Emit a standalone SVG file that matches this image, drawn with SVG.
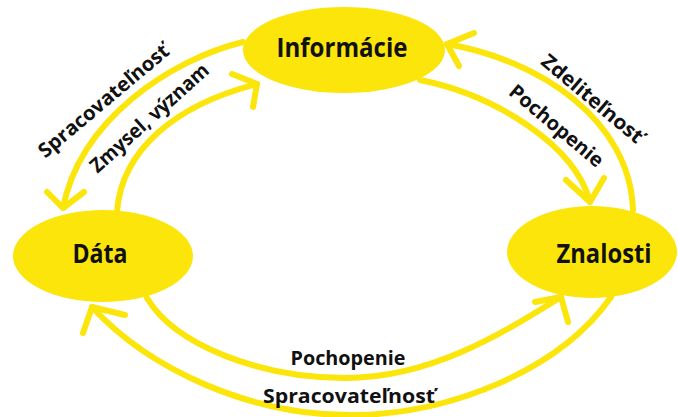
<svg xmlns="http://www.w3.org/2000/svg" width="678" height="417" viewBox="0 0 678 417">
  <style>
    .node ellipse { fill: #FBE50B; }
    .node text { font-family: "Open Sans", "Noto Sans", "DejaVu Sans", sans-serif; font-weight: 700; font-size: 27px; fill: #111; text-anchor: middle; }
    .edge { fill: none; stroke: #FBE50B; stroke-width: 6; stroke-linecap: round; stroke-linejoin: round; }
    .label { font-family: "Open Sans", "Noto Sans", "DejaVu Sans", sans-serif; font-weight: 700; font-size: 20px; fill: #111; text-anchor: middle; }
  </style>
  <rect width="678" height="417" fill="#ffffff"/>

  <!-- connectors: curved arrows with open V heads -->
  <g id="connectors">
    <g id="informacie-data">
      <path class="edge" d="M243,42 C170,60 80,120 63,208"/>
      <polyline class="edge" points="47,192 63,208 84,192"/>
      <text class="label" transform="translate(108,106) rotate(-40)" textLength="164" lengthAdjust="spacingAndGlyphs">Spracovateľnosť</text>
    </g>
    <g id="data-informacie">
      <path class="edge" d="M117,211 C122,150 175,105 257,84"/>
      <polyline class="edge" points="232,74 257,84 253,107"/>
      <text class="label" transform="translate(154,123) rotate(-42)" textLength="152" lengthAdjust="spacingAndGlyphs">Zmysel, význam</text>
    </g>
    <g id="znalosti-informacie">
      <path class="edge" d="M633,210 C630,120 540,60 447,44"/>
      <polyline class="edge" points="474,33 447,44 459,66"/>
      <text class="label" transform="translate(588,104) rotate(40)" textLength="126" lengthAdjust="spacingAndGlyphs">Zdeliteľnosť</text>
    </g>
    <g id="informacie-znalosti">
      <path class="edge" d="M420,80 C495,95 575,145 590,202"/>
      <polyline class="edge" points="566,180 590,202 604,178"/>
      <text class="label" transform="translate(552,131) rotate(40)" textLength="116" lengthAdjust="spacingAndGlyphs">Pochopenie</text>
    </g>
    <g id="data-znalosti">
      <path class="edge" d="M147,298 C175,345 260,378 345,378 S500,335 561,297"/>
      <polyline class="edge" points="535,302 561,297 568,322"/>
      <text class="label" x="348" y="365" textLength="115" lengthAdjust="spacingAndGlyphs">Pochopenie</text>
    </g>
    <g id="znalosti-data">
      <path class="edge" d="M611,297 C560,370 450,415 350,415 S150,370 92,307"/>
      <polyline class="edge" points="83,333 92,307 125,315"/>
      <text class="label" x="349" y="403" textLength="172" lengthAdjust="spacingAndGlyphs">Spracovateľnosť</text>
    </g>
  </g>

  <!-- nodes -->
  <g id="informacie" class="node">
    <ellipse cx="344" cy="50" rx="101" ry="43"/>
    <text x="342" y="57" textLength="131" lengthAdjust="spacingAndGlyphs">Informácie</text>
  </g>
  <g id="data" class="node">
    <ellipse cx="103" cy="256" rx="90" ry="46"/>
    <text x="100" y="263" textLength="55" lengthAdjust="spacingAndGlyphs">Dáta</text>
  </g>
  <g id="znalosti" class="node">
    <ellipse cx="592" cy="252" rx="85" ry="46"/>
    <text x="604" y="263" textLength="95" lengthAdjust="spacingAndGlyphs">Znalosti</text>
  </g>
</svg>
